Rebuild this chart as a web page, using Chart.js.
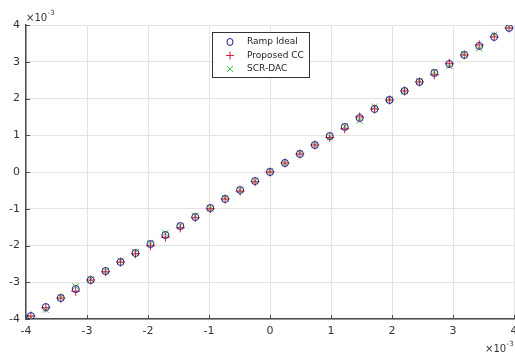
<!DOCTYPE html>
<html>
<head>
<meta charset="utf-8">
<script src="https://cdn.jsdelivr.net/npm/chart.js@4"></script>
<style>
  html, body { margin: 0; padding: 0; background: #fff; }
  canvas { display: block; }
</style>
</head>
<body>
<canvas id="rampChart" width="515" height="358"></canvas>
<script>
/* =========================
   DATA (units of 1e-3)
========================= */
const xValues = [
  -3.92, -3.675, -3.43, -3.185, -2.94, -2.695, -2.45, -2.205, -1.96, -1.715, -1.47,
  -1.225, -0.98, -0.735, -0.49, -0.245, 0, 0.245, 0.49, 0.735, 0.98, 1.225,
  1.47, 1.715, 1.96, 2.205, 2.45, 2.695, 2.94, 3.185, 3.43, 3.675, 3.92
];

const rampIdeal = [
  -3.92, -3.675, -3.43, -3.185, -2.94, -2.695, -2.45, -2.205, -1.96, -1.715, -1.47,
  -1.225, -0.98, -0.735, -0.49, -0.245, 0, 0.245, 0.49, 0.735, 0.98, 1.225,
  1.47, 1.715, 1.96, 2.205, 2.45, 2.695, 2.94, 3.185, 3.43, 3.675, 3.92
];

const proposedCC = [
  -3.92, -3.695, -3.43, -3.245, -2.94, -2.715, -2.45, -2.225, -2.01, -1.775, -1.52,
  -1.245, -1.0, -0.735, -0.52, -0.265, 0, 0.245, 0.49, 0.735, 0.94, 1.175,
  1.5, 1.715, 1.96, 2.205, 2.45, 2.645, 2.96, 3.185, 3.46, 3.675, 3.92
];

const scrDAC = [
  -3.97, -3.745, -3.41, -3.115, -2.92, -2.695, -2.42, -2.185, -1.93, -1.665, -1.47,
  -1.195, -0.99, -0.715, -0.49, -0.245, 0.02, 0.245, 0.51, 0.735, 0.95, 1.245,
  1.4, 1.775, 1.98, 2.205, 2.47, 2.725, 2.88, 3.205, 3.36, 3.735, 3.95
];

const tickValues = [-4, -3, -2, -1, 0, 1, 2, 3, 4];
const seriesLabels = ["Ramp Ideal", "Proposed CC", "SCR-DAC"];
const exponentText = "-3";

/* =========================
   STYLE
========================= */
const FONT = "'DejaVu Sans', sans-serif";
const AXIS_COLOR = "#4d4d4d";
const TEXT_COLOR = "#333333";
const GRID_COLOR = "#e3e3e3";

function toPoints(ys) {
  return xValues.map((x, i) => ({ x: x, y: ys[i] }));
}

/* =========================
   DECORATIONS PLUGIN
========================= */
const decorations = {
  id: "decorations",
  afterDraw(chart) {
    const ctx = chart.ctx;
    const xs = chart.scales.x;
    const ys = chart.scales.y;
    const area = chart.chartArea;

    ctx.save();

    // inward tick marks
    ctx.strokeStyle = AXIS_COLOR;
    ctx.lineWidth = 1;
    tickValues.forEach(v => {
      const px = Math.round(xs.getPixelForValue(v)) + 0.5;
      ctx.beginPath();
      ctx.moveTo(px, area.bottom);
      ctx.lineTo(px, area.bottom - 4);
      ctx.stroke();

      const py = Math.round(ys.getPixelForValue(v)) + 0.5;
      ctx.beginPath();
      ctx.moveTo(area.left, py);
      ctx.lineTo(area.left + 4, py);
      ctx.stroke();
    });

    // exponent labels
    ctx.fillStyle = TEXT_COLOR;
    ctx.textBaseline = "alphabetic";
    ctx.textAlign = "left";
    drawExponent(ctx, 26, 21);
    drawExponent(ctx, 485, 352);

    // legend
    const lx = 212, ly = 32, lw = 97, lh = 45;
    ctx.fillStyle = "#ffffff";
    ctx.fillRect(lx, ly, lw, lh);
    ctx.strokeStyle = "#333333";
    ctx.lineWidth = 1;
    ctx.strokeRect(lx + 0.5, ly + 0.5, lw, lh);

    const rows = [42, 55.5, 69];
    ctx.font = "9px " + FONT;
    ctx.textBaseline = "middle";
    chart.data.datasets.forEach((ds, i) => {
      const cy = rows[i];
      const cx = 230;
      ctx.strokeStyle = ds.borderColor;
      ctx.lineWidth = 1;
      ctx.beginPath();
      if (ds.pointStyle === "circle") {
        ctx.ellipse(cx, cy, 3, 3.5, 0, 0, Math.PI * 2);
      } else if (ds.pointStyle === "cross") {
        ctx.moveTo(cx - 4, cy); ctx.lineTo(cx + 4, cy);
        ctx.moveTo(cx, cy - 4); ctx.lineTo(cx, cy + 4);
      } else {
        ctx.moveTo(cx - 3, cy - 3); ctx.lineTo(cx + 3, cy + 3);
        ctx.moveTo(cx + 3, cy - 3); ctx.lineTo(cx - 3, cy + 3);
      }
      ctx.stroke();
      ctx.fillStyle = "#222222";
      ctx.fillText(ds.label, 247, cy);
    });

    ctx.restore();
  }
};

function drawExponent(ctx, x, y) {
  ctx.font = "10px " + FONT;
  ctx.fillText("\u00d710", x, y);
  const w = ctx.measureText("\u00d710").width;
  ctx.font = "7px " + FONT;
  ctx.fillText(exponentText, x + w + 0.5, y - 6);
}

/* =========================
   CHART
========================= */
const ctx = document.getElementById("rampChart");

new Chart(ctx, {
  type: "scatter",
  data: {
    datasets: [
      {
        label: seriesLabels[0],
        data: toPoints(rampIdeal),
        pointStyle: "circle",
        pointRadius: 3.5,
        borderColor: "#1c1c8a",
        backgroundColor: "rgba(0,0,0,0)",
        borderWidth: 1
      },
      {
        label: seriesLabels[1],
        data: toPoints(proposedCC),
        pointStyle: "cross",
        pointRadius: 4.5,
        borderColor: "#d02035",
        backgroundColor: "rgba(0,0,0,0)",
        borderWidth: 1
      },
      {
        label: seriesLabels[2],
        data: toPoints(scrDAC),
        pointStyle: "crossRot",
        pointRadius: 4.5,
        borderColor: "#3ccf3c",
        backgroundColor: "rgba(0,0,0,0)",
        borderWidth: 1
      }
    ]
  },
  options: {
    responsive: false,
    animation: false,
    devicePixelRatio: 1,
    layout: {
      autoPadding: false,
      padding: { top: 25, right: 1, left: 0, bottom: 0 }
    },
    plugins: {
      legend: { display: false },
      tooltip: { enabled: false }
    },
    scales: {
      x: {
        type: "linear",
        min: -4,
        max: 4,
        afterBuildTicks: axis => {
          axis.ticks = tickValues.map(v => ({ value: v }));
        },
        afterFit: axis => {
          axis.height = 39;
          axis.paddingLeft = 0;
          axis.paddingRight = 0;
        },
        ticks: {
          color: TEXT_COLOR,
          font: { family: FONT, size: 11 },
          padding: 6,
          maxRotation: 0
        },
        grid: { color: GRID_COLOR, drawTicks: false },
        border: { color: AXIS_COLOR, width: 1.5 }
      },
      y: {
        type: "linear",
        min: -4,
        max: 4,
        afterBuildTicks: axis => {
          axis.ticks = tickValues.map(v => ({ value: v }));
        },
        afterFit: axis => {
          axis.width = 26;
          axis.paddingTop = 0;
          axis.paddingBottom = 0;
        },
        ticks: {
          color: TEXT_COLOR,
          font: { family: FONT, size: 11 },
          padding: 6
        },
        grid: { color: GRID_COLOR, drawTicks: false },
        border: { color: AXIS_COLOR, width: 1.5 }
      }
    }
  },
  plugins: [decorations]
});
</script>
</body>
</html>
